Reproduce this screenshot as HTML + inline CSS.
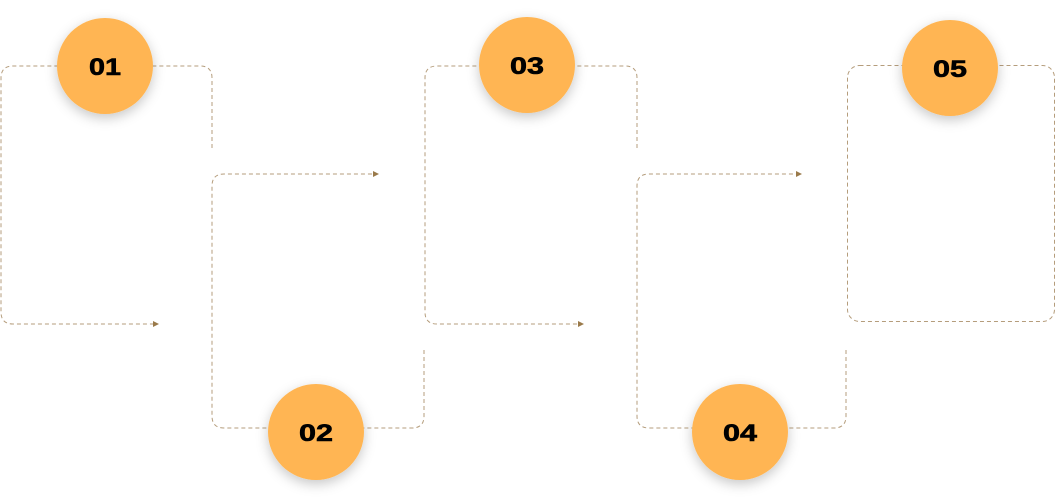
<!DOCTYPE html>
<html><head><meta charset="utf-8"><style>
html,body{margin:0;padding:0;background:#fff;}
svg{display:block;}
text{font-family:"Liberation Sans",sans-serif;font-weight:bold;font-size:24px;fill:#000;stroke:#000;stroke-width:0.6;}
</style></head><body>
<svg width="1056" height="503" viewBox="0 0 1056 503" xmlns="http://www.w3.org/2000/svg">
<defs>
<filter id="sh" x="-50%" y="-50%" width="200%" height="200%">
<feDropShadow dx="0" dy="4" stdDeviation="6" flood-color="#000" flood-opacity="0.22"/>
</filter>
<marker id="ar" markerWidth="6" markerHeight="6" refX="5" refY="3" orient="auto" markerUnits="userSpaceOnUse">
<path d="M0,0 L6,3 L0,6 z" fill="#9a7a4a"/>
</marker>
</defs>
<g fill="none" stroke="#b59d7c" stroke-width="1" stroke-dasharray="4,3">
<path d="M212,148 V78 Q212,66 200,66 H13 Q1,66 1,78 V312 Q1,324 13,324 H158" marker-end="url(#ar)"/>
<path d="M424,350 V416 Q424,428 412,428 H224 Q212,428 212,416 V186 Q212,174 224,174 H378" marker-end="url(#ar)"/>
<path d="M637,148 V78 Q637,66 625,66 H437 Q425,66 425,78 V312 Q425,324 437,324 H583" marker-end="url(#ar)"/>
<path d="M846,350 V416 Q846,428 834,428 H649 Q637,428 637,416 V186 Q637,174 649,174 H801" marker-end="url(#ar)"/>
<rect x="847.5" y="65.5" width="207" height="256" rx="12"/>
</g>
<g fill="#ffb552" filter="url(#sh)">
<circle cx="105" cy="66" r="48"/>
<circle cx="316" cy="432" r="48"/>
<circle cx="527" cy="65" r="48"/>
<circle cx="740" cy="432" r="48"/>
<circle cx="950" cy="68" r="48"/>
</g>
<g text-anchor="middle">
<text x="105" y="75" textLength="32" lengthAdjust="spacingAndGlyphs">01</text>
<text x="316" y="441" textLength="34" lengthAdjust="spacingAndGlyphs">02</text>
<text x="527" y="74" textLength="34" lengthAdjust="spacingAndGlyphs">03</text>
<text x="740" y="441" textLength="34" lengthAdjust="spacingAndGlyphs">04</text>
<text x="950" y="77" textLength="34" lengthAdjust="spacingAndGlyphs">05</text>
</g>
</svg>
</body></html>
